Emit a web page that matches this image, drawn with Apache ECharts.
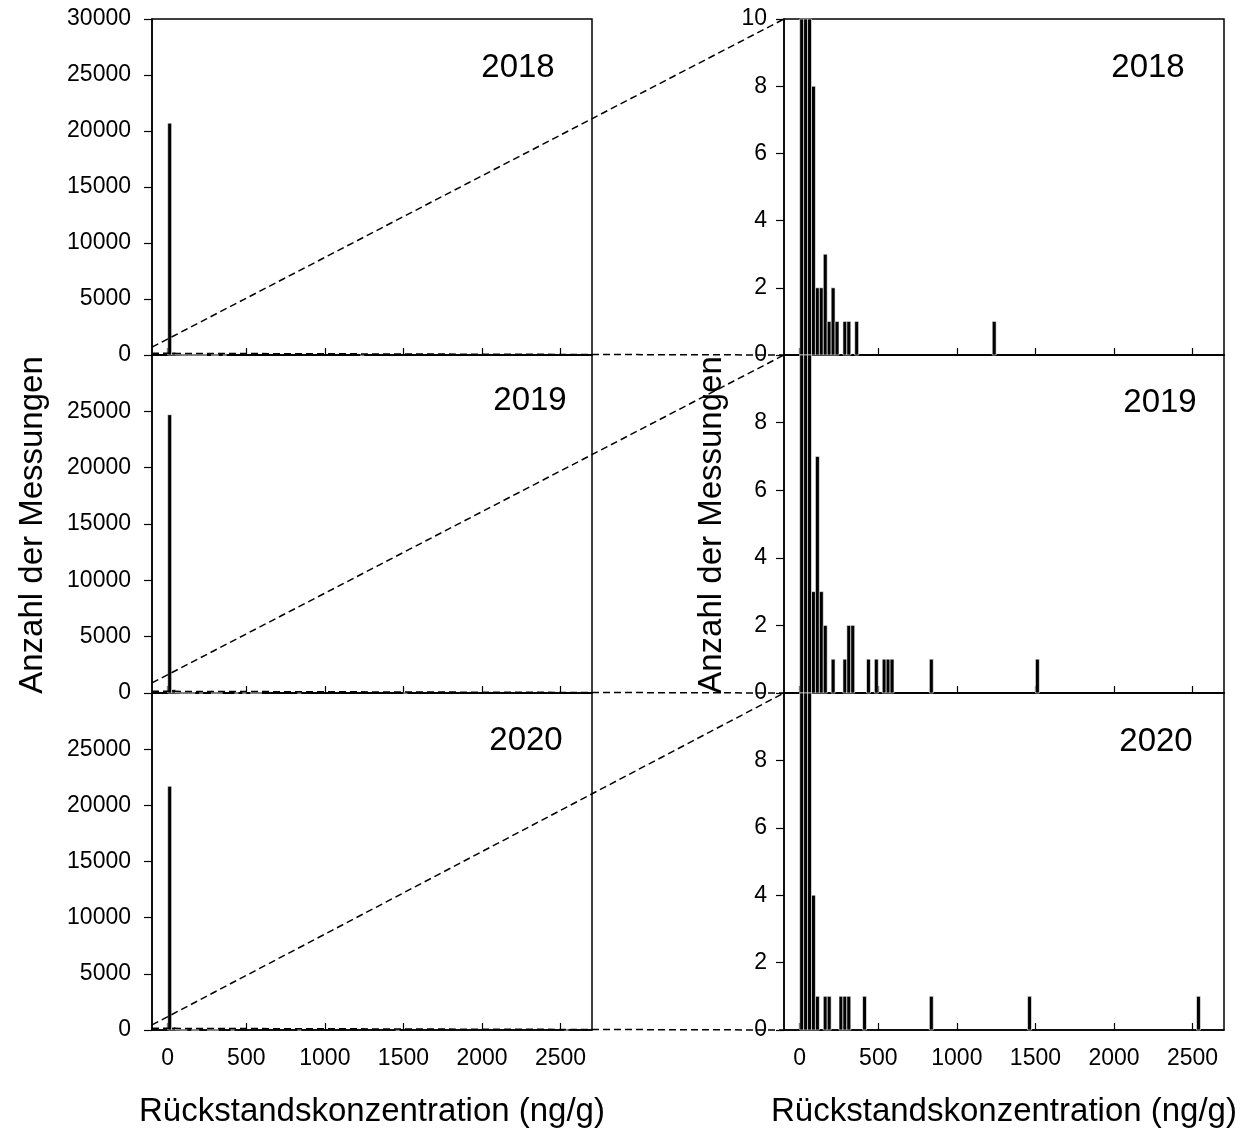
<!DOCTYPE html>
<html>
<head>
<meta charset="utf-8">
<script src="https://cdn.jsdelivr.net/npm/echarts@6/dist/echarts.min.js"></script>
<style>html,body{margin:0;padding:0;background:#fff;}#c{width:1241px;height:1130px;}</style>
</head>
<body>
<div id="c"></div>
<script>
// ---- data (histogram bins of 25 ng/g: bin start, count) ----
const years = ['2018', '2019', '2020'];
const binWidth = 25;
const binStarts2018 = [0, 25, 50, 75, 100, 125, 150, 175, 200, 225, 275, 300, 350, 1225];
const counts2018    = [20700, 250, 30, 8, 2, 2, 3, 1, 2, 1, 1, 1, 1, 1];
const binStarts2019 = [0, 25, 50, 75, 100, 125, 150, 200, 275, 300, 325, 425, 475, 525, 550, 575, 825, 1500];
const counts2019    = [24700, 300, 35, 3, 7, 3, 2, 1, 1, 2, 2, 1, 1, 1, 1, 1, 1, 1];
const binStarts2020 = [0, 25, 50, 75, 100, 150, 175, 250, 275, 300, 400, 825, 1450, 2525];
const counts2020    = [21700, 250, 25, 4, 1, 1, 1, 1, 1, 1, 1, 1, 1, 1];
const xTicks = [0, 500, 1000, 1500, 2000, 2500];
const xMin = -100, xMax = 2700;
const leftYMax = 30000, leftYInterval = 5000;
const rightYMax = 10, rightYInterval = 2;
const yTitle = 'Anzahl der Messungen';
const xTitle = 'Rückstandskonzentration (ng/g)';

const starts = [binStarts2018, binStarts2019, binStarts2020];
const counts = [counts2018, counts2019, counts2020];

const FONT = '"Liberation Sans", Arial, sans-serif';
const rows = [{top: 19, height: 336}, {top: 355, height: 338}, {top: 693, height: 337}];
const cols = [{left: 152, width: 440}, {left: 784, width: 440}];
const plain = v => String(v);

const grids = [], xAxes = [], yAxes = [], series = [];
let gi = 0;
for (let c = 0; c < 2; c++) {
  for (let r = 0; r < 3; r++) {
    grids.push({left: cols[c].left, width: cols[c].width, top: rows[r].top, height: rows[r].height,
      show: true, borderColor: '#000', borderWidth: 1.5, backgroundColor: 'transparent'});
    xAxes.push({
      type: 'value', gridIndex: gi, min: xMin, max: xMax,
      axisLine: {show: true, onZero: false, lineStyle: {color: '#000', width: 1.5}},
      axisTick: {show: true, inside: true, length: 7, customValues: xTicks, lineStyle: {color: '#000', width: 1.2}},
      axisLabel: {show: r === 2, customValues: xTicks, formatter: plain, color: '#000', fontSize: 23, fontFamily: FONT, margin: 17},
      splitLine: {show: false}
    });
    yAxes.push({
      type: 'value', gridIndex: gi, min: 0,
      max: c === 0 ? leftYMax : rightYMax,
      interval: c === 0 ? leftYInterval : rightYInterval,
      axisLine: {show: true, onZero: false, lineStyle: {color: '#000', width: 1.5}},
      axisTick: {show: true, inside: false, length: 8, lineStyle: {color: '#000', width: 1.2}},
      axisLabel: {show: true, showMaxLabel: r === 0, formatter: plain, color: '#000', fontSize: 23, fontFamily: FONT, margin: c === 0 ? 21 : 17},
      splitLine: {show: false}
    });
    const data = starts[r].map((s, i) => [s, counts[r][i]]);
    series.push({
      type: 'custom', xAxisIndex: gi, yAxisIndex: gi, data: data,
      encode: {x: 0, y: 1},
      renderItem: function (params, api) {
        const x0 = api.value(0), v = api.value(1);
        const p0 = api.coord([x0, v]);
        const p1 = api.coord([x0 + binWidth, 0]);
        const cs = params.coordSys;
        const rect = echarts.graphic.clipRectByRect(
          {x: p0[0], y: p0[1], width: p1[0] - p0[0], height: p1[1] - p0[1]},
          {x: cs.x, y: cs.y, width: cs.width, height: cs.height});
        if (!rect) return null;
        return {type: 'rect', shape: rect, style: {fill: '#000', stroke: '#fff', lineWidth: 0.6}};
      }
    });
    gi++;
  }
}

const chart = echarts.init(document.getElementById('c'), null, {renderer: 'canvas'});

const yearPos = [
  [[518, 68], [1148, 68]],
  [[530, 401], [1160, 403]],
  [[526, 741], [1156, 742]]
];
const graphics = [];
for (let r = 0; r < 3; r++) {
  for (let c = 0; c < 2; c++) {
    graphics.push({type: 'text', x: yearPos[r][c][0], y: yearPos[r][c][1], z: 50,
      style: {text: years[r], font: '33px ' + FONT, fill: '#000', textAlign: 'center', textVerticalAlign: 'middle'}});
  }
}
[[33, 525], [712, 525]].forEach(p => graphics.push({type: 'text', x: p[0], y: p[1], rotation: Math.PI / 2, z: 50,
  style: {text: yTitle, font: '33px ' + FONT, fill: '#000', textAlign: 'center', textVerticalAlign: 'middle'}}));
[[372, 1112], [1004, 1112]].forEach(p => graphics.push({type: 'text', x: p[0], y: p[1], z: 50,
  style: {text: xTitle, font: '33px ' + FONT, fill: '#000', textAlign: 'center', textVerticalAlign: 'middle'}}));

chart.setOption({
  animation: false,
  backgroundColor: '#fff',
  grid: grids, xAxis: xAxes, yAxis: yAxes, series: series,
  graphic: graphics
});

// zoom connectors (dashed) computed through the axes
const slopeStart = [700, 900, 450];
const conn = [];
for (let r = 0; r < 3; r++) {
  const a = chart.convertToPixel({gridIndex: r}, [xMin, slopeStart[r]]);
  const b = chart.convertToPixel({gridIndex: r + 3}, [xMin, rightYMax]);
  const c0 = chart.convertToPixel({gridIndex: r}, [xMin, 150]);
  const d = chart.convertToPixel({gridIndex: r + 3}, [xMin, 0]);
  conn.push({type: 'line', z: 60, shape: {x1: a[0], y1: a[1], x2: b[0], y2: b[1]},
    style: {stroke: '#000', lineWidth: 1.5, lineDash: [7, 4]}});
  conn.push({type: 'line', z: 60, shape: {x1: c0[0], y1: c0[1], x2: d[0], y2: d[1]},
    style: {stroke: '#000', lineWidth: 1.5, lineDash: [7, 4]}});
}
chart.setOption({graphic: graphics.concat(conn)});
</script>
</body>
</html>
